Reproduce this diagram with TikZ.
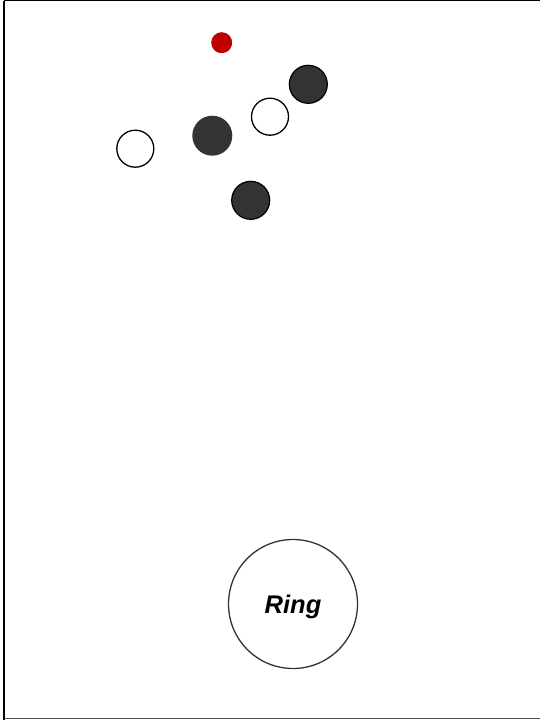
\documentclass[tikz,border=0pt]{standalone}
\usepackage{fontspec}
\setmainfont{Liberation Sans}
\usetikzlibrary{calc}

\begin{document}
\begin{tikzpicture}[x=1pt, y=-1pt]
  \tikzstyle{dark} = [circle, draw=black, line width=1.2pt, fill=black!80, minimum size=38pt, inner sep=0pt]
  \tikzstyle{light} = [circle, draw=black, line width=1.3pt, fill=white, minimum size=37pt, inner sep=0pt]
  \useasboundingbox (0, 0) rectangle (540, 720);
  % frame
  \draw[line width=1.5pt] (4, 720) -- (4, 0.5);
  \draw[line width=0.8pt] (4, 0.5) -- (540, 0.5);
  \draw[line width=0.8pt, black!70] (4, 718.5) -- (540, 718.5);
  % pieces
  \node[circle, fill=red!75!black, minimum size=21pt, inner sep=0pt] (dot) at (221.7, 42.7) {};
  \node[dark] (d1) at (308.3, 84.3) {};
  \node[light] (w1) at (270, 116.7) {};
  \node[dark, draw=none, minimum size=40pt] (d2) at (212.3, 135.7) {};
  \node[light] (w2) at (135.3, 148.7) {};
  \node[dark] (d3) at (250.7, 200.3) {};
  \node[circle, draw=black!80, line width=1.3pt, minimum size=129pt, inner sep=0pt, text depth=0pt,
        font=\fontsize{25.5}{30}\selectfont\bfseries\itshape] (ring) at (293, 604) {Ring};
\end{tikzpicture}
\end{document}
